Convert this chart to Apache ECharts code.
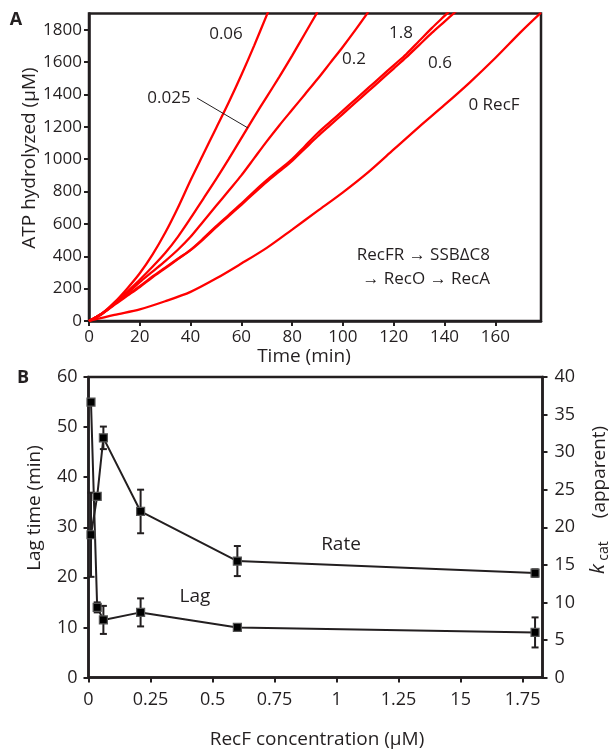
<!DOCTYPE html>
<html>
<head>
    <meta charset="utf-8">
    <title>RecF ATP hydrolysis</title>
    <script src="https://cdn.jsdelivr.net/npm/echarts@6/dist/echarts.min.js"></script>
    <style>
        html, body { margin: 0; padding: 0; background: #ffffff; }
        #chart { width: 609px; height: 752px; }
    </style>
</head>
<body>
<div id="chart"></div>
<script>
    // Panel A: ATP hydrolyzed (uM) vs time (min), one curve per RecF concentration
    const curve006 = [[0,0],[5,45],[10,115],[15,200],[20,295],[25,410],[30,545],[35,700],[40,870],[45,1030],[50,1190],[55,1350],[60,1520],[65,1700],[70,1890],[71,1925]];
    const curve0025 = [[0,0],[5,45],[10,105],[15,180],[20,255],[25,335],[30,420],[35,520],[40,635],[45,755],[50,875],[55,1000],[60,1130],[65,1260],[70,1385],[75,1510],[80,1640],[85,1775],[90,1910]];
    const curve02 = [[0,0],[5,45],[10,105],[15,170],[20,240],[25,305],[30,370],[35,440],[40,520],[45,615],[50,710],[55,805],[60,900],[65,1005],[70,1110],[75,1210],[80,1305],[85,1400],[90,1495],[95,1595],[100,1695],[105,1800],[110,1910]];
    const curve18 = [[0,0],[5,45],[10,105],[15,160],[20,215],[25,275],[30,330],[35,385],[40,440],[45,510],[50,585],[55,655],[60,725],[65,800],[70,870],[75,935],[80,1000],[85,1080],[90,1160],[95,1230],[100,1300],[105,1370],[110,1440],[115,1510],[120,1580],[125,1650],[130,1730],[135,1810],[140,1885],[142,1915]];
    const curve06 = [[0,0],[5,42],[10,100],[15,155],[20,210],[25,270],[30,325],[35,382],[40,438],[45,505],[50,578],[55,648],[60,718],[65,790],[70,860],[75,925],[80,990],[85,1065],[90,1140],[95,1210],[100,1280],[105,1350],[110,1420],[115,1490],[120,1560],[125,1630],[130,1705],[135,1780],[140,1850],[145,1920]];
    const curve0 = [[0,0],[10,38],[20,72],[30,122],[40,180],[50,262],[60,355],[70,452],[80,565],[90,680],[100,795],[110,920],[120,1060],[130,1200],[140,1335],[150,1475],[160,1625],[170,1785],[178,1905]];
    const curveNames = ['0.06', '0.025', '0.2', '1.8', '0.6', '0 RecF'];

    // Panel B: lag time and apparent kcat vs RecF concentration
    const recfConc = [0.01, 0.035, 0.06, 0.21, 0.6, 1.8];
    const lagTime = [55, 14, 11.5, 13, 10, 9];
    const lagErr = [0, 1, 2.8, 2.8, 0, 3];
    const rateKcat = [19, 24.1, 31.9, 22.1, 15.5, 13.9];
    const rateErr = [5.6, 0, 1.5, 2.9, 2, 0.5];
    const concTickLabels = ['0', '0.25', '0.5', '0.75', '1', '1.25', '15', '1.75'];

    const ink = '#231f20';
    const font = 'Open Sans';

    function errorBars(xs, ys, es, axisIdx) {
        return {
            type: 'custom',
            xAxisIndex: 1,
            yAxisIndex: axisIdx,
            z: 1,
            data: xs.map((x, i) => [x, ys[i], es[i]]),
            renderItem: function (params, api) {
                const e = api.value(2);
                if (!e) return;
                const x = api.value(0), y = api.value(1);
                const top = api.coord([x, y + e]);
                const bot = api.coord([x, y - e]);
                const st = { stroke: ink, lineWidth: 2 };
                return {
                    type: 'group',
                    children: [
                        { type: 'line', shape: { x1: top[0], y1: top[1], x2: bot[0], y2: bot[1] }, style: st },
                        { type: 'line', shape: { x1: top[0] - 3.5, y1: top[1], x2: top[0] + 3.5, y2: top[1] }, style: st },
                        { type: 'line', shape: { x1: bot[0] - 3.5, y1: bot[1], x2: bot[0] + 3.5, y2: bot[1] }, style: st }
                    ]
                };
            }
        };
    }

    function label(text, x, y, size, opts) {
        return Object.assign({
            type: 'text', x: x, y: y, z: 100,
            style: {
                text: text, font: (opts && opts.weight ? opts.weight + ' ' : '') + size + 'px "' + font + '"',
                fill: ink, align: 'center', verticalAlign: 'middle',
                textAlign: 'center', textVerticalAlign: 'middle'
            }
        }, opts && opts.rot ? { rotation: opts.rot } : {});
    }

    const redLine = (name, data) => ({
        name: name, type: 'line', xAxisIndex: 0, yAxisIndex: 0,
        data: data, showSymbol: false, clip: true, smooth: 0.3,
        lineStyle: { color: '#ff0000', width: 2.3 }
    });

    const axisBase = {
        axisLine: { show: true, onZero: false, lineStyle: { color: ink, width: 2.5 } },
        axisTick: { show: true, length: 5, lineStyle: { color: ink, width: 2 } },
        splitLine: { show: false },
        axisLabel: { color: ink, fontFamily: font }
    };

    const option = {
        animation: false,
        textStyle: { fontFamily: font },
        grid: [
            { left: 89, right: 68, top: 13.5, height: 307.5, show: true, borderColor: ink, borderWidth: 2.5, backgroundColor: 'transparent' },
            { left: 88.5, right: 66.5, top: 377, height: 300.5, show: true, borderColor: ink, borderWidth: 2.5, backgroundColor: 'transparent' }
        ],
        xAxis: [
            Object.assign({}, axisBase, {
                gridIndex: 0, type: 'value', min: 0, max: 178, interval: 20,
                axisLabel: { color: ink, fontFamily: font, fontSize: 17, margin: 8, showMaxLabel: false,
                    formatter: v => (v % 20 === 0 && v <= 160) ? String(v) : '' }
            }),
            Object.assign({}, axisBase, {
                gridIndex: 1, type: 'value', min: 0, max: 1.83, interval: 0.25,
                axisLabel: { color: ink, fontFamily: font, fontSize: 18, margin: 13, showMaxLabel: false,
                    formatter: function (v) {
                        const k = Math.round(v / 0.25);
                        return Math.abs(k * 0.25 - v) < 1e-6 && k < concTickLabels.length ? concTickLabels[k] : '';
                    } }
            })
        ],
        yAxis: [
            Object.assign({}, axisBase, {
                gridIndex: 0, type: 'value', min: 0, max: 1900, interval: 200,
                axisLabel: { color: ink, fontFamily: font, fontSize: 17, margin: 7, showMaxLabel: false,
                    formatter: v => (v % 200 === 0 && v <= 1800) ? String(v) : '' }
            }),
            Object.assign({}, axisBase, {
                gridIndex: 1, type: 'value', min: 0, max: 60, interval: 10, position: 'left',
                axisLabel: { color: ink, fontFamily: font, fontSize: 18, margin: 11 }
            }),
            Object.assign({}, axisBase, {
                gridIndex: 1, type: 'value', min: 0, max: 40, interval: 5, position: 'right',
                axisLabel: { color: ink, fontFamily: font, fontSize: 18, margin: 12 }
            })
        ],
        series: [
            redLine(curveNames[0], curve006),
            redLine(curveNames[1], curve0025),
            redLine(curveNames[2], curve02),
            redLine(curveNames[3], curve18),
            redLine(curveNames[4], curve06),
            redLine(curveNames[5], curve0),
            errorBars(recfConc, lagTime, lagErr, 1),
            errorBars(recfConc, rateKcat, rateErr, 2),
            {
                name: 'Lag', type: 'line', xAxisIndex: 1, yAxisIndex: 1, z: 3,
                data: recfConc.map((x, i) => [x, lagTime[i]]),
                symbol: 'rect', symbolSize: 8,
                lineStyle: { color: ink, width: 2 },
                itemStyle: { color: '#000', borderColor: '#555', borderWidth: 1.2 }
            },
            {
                name: 'Rate', type: 'line', xAxisIndex: 1, yAxisIndex: 2, z: 3,
                data: recfConc.map((x, i) => [x, rateKcat[i]]),
                symbol: 'rect', symbolSize: 8,
                lineStyle: { color: ink, width: 2 },
                itemStyle: { color: '#000', borderColor: '#555', borderWidth: 1.2 }
            }
        ],
        graphic: [
            label('A', 16, 20, 18, { weight: 'bold' }),
            label('B', 23, 378, 18, { weight: 'bold' }),
            label('ATP hydrolyzed (\u03bcM)', 30, 158, 19, { rot: Math.PI / 2 }),
            label('Time (min)', 304, 357, 19),
            label('0.06', 226, 34, 17),
            label('0.025', 169, 98, 17),
            { type: 'line', z: 100, shape: { x1: 197, y1: 98, x2: 248, y2: 128 }, style: { stroke: ink, lineWidth: 1 } },
            label('0.2', 354, 59, 17),
            label('1.8', 401, 33, 17),
            label('0.6', 440, 63, 17),
            label('0 RecF', 494, 105, 17),
            {
                type: 'text', x: 490, y: 255, z: 100,
                style: { text: 'RecFR \u2192 SSB\u0394C8', font: '17px "' + font + '"', fill: ink,
                    align: 'right', verticalAlign: 'middle', textAlign: 'right', textVerticalAlign: 'middle' }
            },
            {
                type: 'text', x: 490, y: 279, z: 100,
                style: { text: '\u2192 RecO \u2192 RecA', font: '17px "' + font + '"', fill: ink,
                    align: 'right', verticalAlign: 'middle', textAlign: 'right', textVerticalAlign: 'middle' }
            },
            label('Lag time (min)', 35, 508, 19, { rot: Math.PI / 2 }),
            label('RecF concentration (\u03bcM)', 317, 740, 19),
            label('Rate', 341, 545, 19),
            label('Lag', 195, 597, 19),
            { type: 'text', x: 598, y: 569, z: 100, rotation: Math.PI / 2,
              style: { text: 'k', font: 'italic 20px "' + font + '"', fill: ink,
                  align: 'center', verticalAlign: 'middle', textAlign: 'center', textVerticalAlign: 'middle' } },
            label('cat', 604, 551, 14, { rot: Math.PI / 2 }),
            label('(apparent)', 600, 472, 19, { rot: Math.PI / 2 })
        ]
    };

    const chart = echarts.init(document.getElementById('chart'));
    chart.setOption(option);
</script>
</body>
</html>
